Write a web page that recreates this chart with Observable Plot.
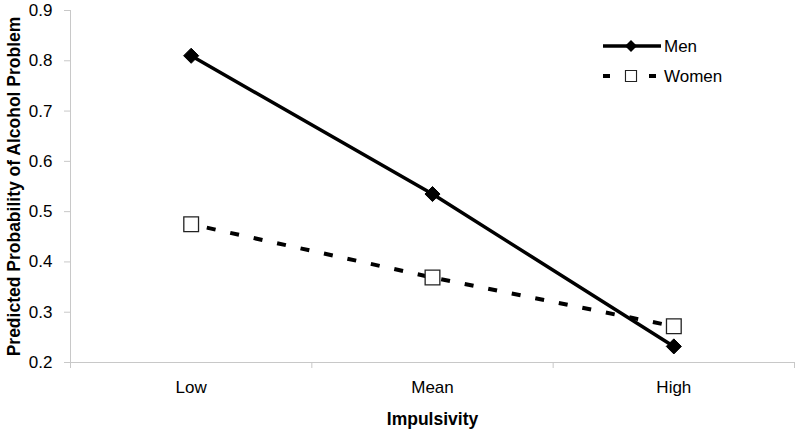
<!DOCTYPE html>
<html>
<head>
<meta charset="utf-8">
<script src="https://cdn.jsdelivr.net/npm/d3@7"></script>
<script src="https://cdn.jsdelivr.net/npm/@observablehq/plot@0.6"></script>
<style>
  html, body { margin: 0; padding: 0; background: #fff; }
  #wrap { position: relative; width: 800px; height: 430px; font-family: "Liberation Sans", Arial, sans-serif; }
  #legend { position: absolute; left: 600px; top: 30px; }
</style>
</head>
<body>
<div id="wrap"></div>
<script>
const categories = ["Low", "Mean", "High"];
const menValues = [0.81, 0.535, 0.232];
const womenValues = [0.475, 0.369, 0.272];
const yTicks = [0.2, 0.3, 0.4, 0.5, 0.6, 0.7, 0.8, 0.9];
const seriesNames = ["Men", "Women"];

const men = categories.map((c, i) => ({i: i + 0.5, cat: c, value: menValues[i], series: "Men"}));
const women = categories.map((c, i) => ({i: i + 0.5, cat: c, value: womenValues[i], series: "Women"}));
const boundaries = d3.range(categories.length + 1);

const chart = Plot.plot({
  width: 800,
  height: 430,
  marginLeft: 70,
  marginRight: 6,
  marginTop: 10,
  marginBottom: 68,
  style: {fontFamily: "Liberation Sans, Arial, sans-serif", fontSize: "16px", color: "#000", background: "#fff"},
  x: {domain: [0, categories.length]},
  y: {domain: [0.2, 0.9]},
  marks: [
    Plot.ruleY([0.2], {stroke: "#c8c8c8", strokeWidth: 1}),
    Plot.ruleX([0], {stroke: "#c8c8c8", strokeWidth: 1}),
    Plot.axisX(boundaries, {tickSize: 6, tickFormat: () => "", stroke: "#c8c8c8", label: null}),
    Plot.axisX(men.map(d => d.i), {tickSize: 0, tickPadding: 18, tickFormat: (d) => categories[Math.floor(d)], label: "Impulsivity", labelAnchor: "center", labelArrow: "none", labelOffset: 62}),
    Plot.axisY(yTicks, {tickSize: 6, tickPadding: 12, stroke: "#c8c8c8", tickFormat: d3.format(".1f"), label: "Predicted Probability of Alcohol Problem", labelAnchor: "center", labelArrow: "none", labelOffset: 63}),
    Plot.line(women, {x: "i", y: "value", stroke: "#000", strokeWidth: 4, strokeLinecap: "butt", strokeDasharray: "9,15", strokeDashoffset: -16}),
    Plot.line(men, {x: "i", y: "value", stroke: "#000", strokeWidth: 3.5, strokeLinecap: "butt"}),
    Plot.dot(women, {x: "i", y: "value", symbol: "square", r: 8.3, fill: "#fff", stroke: "#222", strokeWidth: 1.3}),
    Plot.dot(men, {x: "i", y: "value", symbol: "diamond2", r: 6.8, fill: "#000", stroke: "#000", strokeWidth: 1})
  ]
});

const svg = d3.select(chart);
svg.selectAll('[aria-label="x-axis tick label"], [aria-label="y-axis tick label"]').attr("font-size", "17px")
  .selectAll("text").attr("font-size", "17px");
svg.selectAll('[aria-label="x-axis label"], [aria-label="y-axis label"]').attr("font-size", "17.5px").attr("font-weight", "bold")
  .selectAll("text").attr("font-size", "17.5px").attr("font-weight", "bold");
document.getElementById("wrap").appendChild(chart);

// legend
const lg = d3.select("#wrap").append("svg").attr("id", "legend").attr("width", 170).attr("height", 70)
  .style("font-family", "Liberation Sans, Arial, sans-serif").style("font-size", "17px");
const sym2 = d3.symbol().type(d3.symbolDiamond2).size(6.8 * 6.8 * Math.PI);
const symSq = d3.symbol().type(d3.symbolSquare).size(8.3 * 8.3 * Math.PI);
seriesNames.forEach((name, k) => {
  const g = lg.append("g").attr("transform", `translate(0, ${16 + k * 30})`);
  if (k === 0) {
    g.append("line").attr("x1", 3).attr("x2", 61).attr("y1", 0).attr("y2", 0).attr("stroke", "#000").attr("stroke-width", 3.5);
    g.append("path").attr("d", sym2).attr("transform", "translate(31,0) scale(0.8)").attr("fill", "#000");
  } else {
    g.append("line").attr("x1", 3).attr("x2", 61).attr("y1", 0).attr("y2", 0).attr("stroke", "#000").attr("stroke-width", 4).attr("stroke-dasharray", "7,16");
    g.append("rect").attr("x", 21).attr("y", -8).attr("width", 21).attr("height", 16).attr("fill", "#fff");
    g.append("path").attr("d", symSq).attr("transform", "translate(31,0) scale(0.75)").attr("fill", "#fff").attr("stroke", "#222").attr("stroke-width", 1.5);
  }
  g.append("text").attr("x", 64).attr("y", 6).text(name);
});
</script>
</body>
</html>
